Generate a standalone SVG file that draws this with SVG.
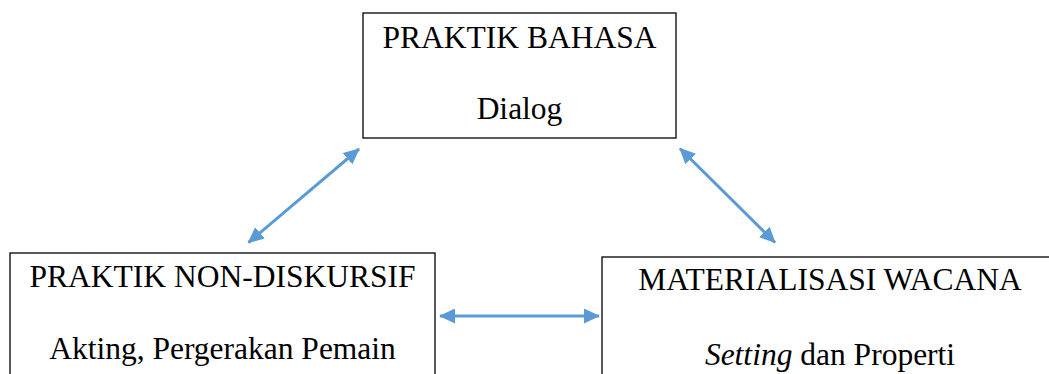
<svg xmlns="http://www.w3.org/2000/svg" width="1049" height="374" viewBox="0 0 1049 374">
  <style>
    .box { fill: #ffffff; stroke: #000000; stroke-width: 1.3; }
    .t { font-family: "Liberation Serif", "Times New Roman", serif; font-size: 31.5px; fill: #000000; text-anchor: middle; }
    .conn { stroke: #5B9BD5; stroke-width: 3; fill: none; marker-start: url(#ah); marker-end: url(#ah); }
  </style>
  <defs>
    <marker id="ah" viewBox="0 0 16 15" refX="15" refY="7.5" markerWidth="16" markerHeight="15" markerUnits="userSpaceOnUse" orient="auto-start-reverse">
      <path d="M0,0 L16,7.5 L0,15 z" fill="#5B9BD5"/>
    </marker>
  </defs>
  <rect width="1049" height="374" fill="#ffffff"/>
  <g id="node-praktik-bahasa">
    <rect class="box" x="363" y="13" width="313" height="125"/>
    <text class="t" x="519.5" y="48">PRAKTIK BAHASA</text>
    <text class="t" x="519.5" y="119">Dialog</text>
  </g>
  <g id="node-praktik-non-diskursif">
    <rect class="box" x="10" y="253" width="425" height="140"/>
    <text class="t" x="222.5" y="287">PRAKTIK NON-DISKURSIF</text>
    <text class="t" x="222.5" y="359">Akting, Pergerakan Pemain</text>
  </g>
  <g id="node-materialisasi-wacana">
    <rect class="box" x="602" y="257" width="456" height="140"/>
    <text class="t" x="830" y="290">MATERIALISASI WACANA</text>
    <text class="t" x="830" y="365"><tspan font-style="italic">Setting</tspan> dan Properti</text>
  </g>
  <g id="connectors">
    <line class="conn" x1="248.5" y1="242.5" x2="359" y2="149"/>
    <line class="conn" x1="680" y1="148.5" x2="775" y2="242.5"/>
    <line class="conn" x1="440" y1="316" x2="599" y2="316"/>
  </g>
</svg>
